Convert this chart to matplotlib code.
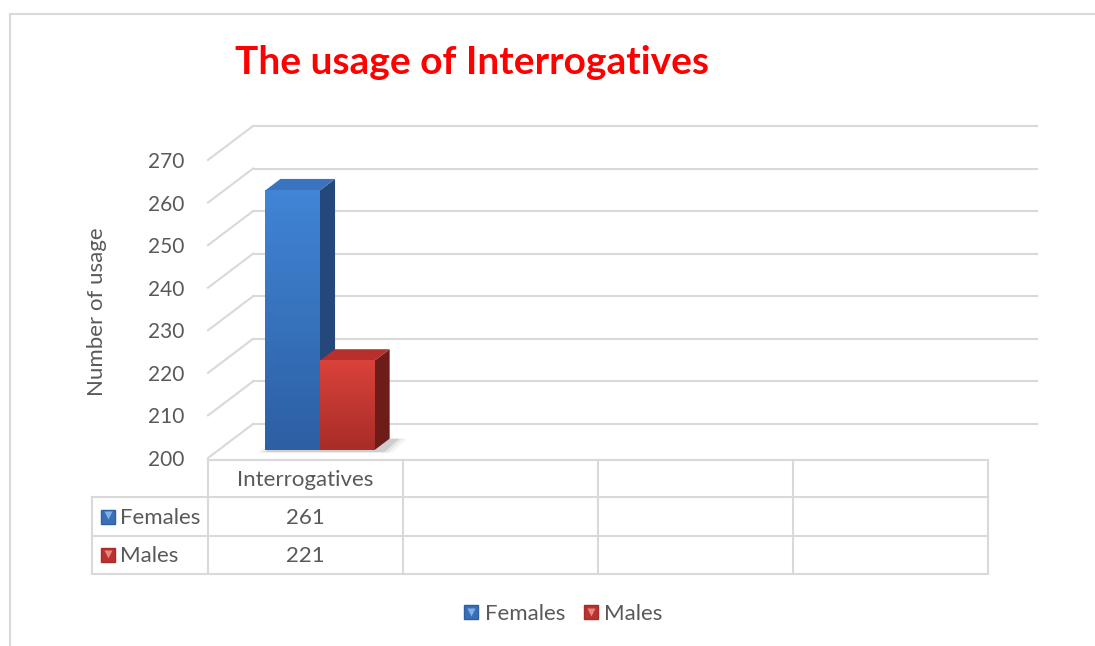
import numpy as np
import matplotlib
matplotlib.use('Agg')
import matplotlib.pyplot as plt
from matplotlib.patches import Polygon
from matplotlib.lines import Line2D
from matplotlib.legend_handler import HandlerTuple

plt.rcParams['font.family'] = ['Lato', 'DejaVu Sans']

# data
categories = ['Interrogatives', '', '', '']
females = [261, None, None, None]
males = [221, None, None, None]
series_names = ['Females', 'Males']
y_ticks = [200, 210, 220, 230, 240, 250, 260, 270]

GRID = '#d9d9d9'
TXT = '#595959'
colors = {
    'Females': dict(front_top='#4085d6', front_bot='#2d5fa3', side='#24487a', top='#3a73bf', mark='#3b6fb5', hi='#8fc3f5'),
    'Males': dict(front_top='#d9423b', front_bot='#a82c28', side='#6e1c19', top='#b8302b', mark='#b83330', hi='#f59a95'),
}

W, H = 1095, 646
fig = plt.figure(figsize=(W / 100, H / 100), dpi=100)

# overlay in pixel coords for frame and table lines
ov = fig.add_axes([0, 0, 1, 1])
ov.set_xlim(0, W)
ov.set_ylim(H, 0)
ov.axis('off')
ov.plot([10, W], [14, 14], color=GRID, lw=1.5)
ov.plot([10, 10], [14, H], color=GRID, lw=1.5)

# main axes: front plane, x in category units, y in values
x0px, x1px, y0px, y1px = 208, 988, 458, 160
ax = fig.add_axes([x0px / W, 1 - y0px / H, (x1px - x0px) / W, (y0px - y1px) / H])
ax.set_xlim(0, len(categories))
ax.set_ylim(200, 270)
for s in ax.spines.values():
    s.set_visible(False)
ax.set_xticks([])
ax.set_yticks(y_ticks)
ax.tick_params(axis='y', length=0, pad=17, labelsize=15, labelcolor=TXT)
ax.set_ylabel('Number of usage', fontsize=16, color=TXT)
ax.yaxis.set_label_coords(-0.13, 0.49)
ax.patch.set_alpha(0)

DX = 45 / 195.0          # depth offset in category units
DY = 34 / (298 / 70.0)   # depth offset in value units
n = len(categories)

# back wall and side wall gridlines
for v in y_ticks:
    ax.plot([DX, n + DX * 1.08], [v + DY, v + DY], color=GRID, lw=1.5, clip_on=False, zorder=1)
    ax.plot([0, DX], [v, v + DY], color=GRID, lw=1.5, clip_on=False, zorder=1)

d0, d1 = 0.235, 0.57
bw = 0.28
start = 0.5 - bw + 0.02

# soft shadow under bars
sh_x0 = start
sh_x1 = start + 2 * bw + 0.05
for k, a in enumerate([0.04, 0.06, 0.10]):
    e = 0.02 * (2 - k)
    ax.add_patch(Polygon([(sh_x0 - e + d0 * DX, 200 + d0 * DY - 0.5 - e * 4),
                          (sh_x1 + e + d0 * DX, 200 + d0 * DY - 0.5 - e * 4),
                          (sh_x1 + e + d1 * DX, 200 + d1 * DY),
                          (sh_x0 - e + d1 * DX, 200 + d1 * DY)],
                         closed=True, fc='black', ec='none', alpha=a, zorder=2, clip_on=False))


def draw_bar(xl, v, c, z):
    xr = xl + bw
    base = 200
    # side face
    ax.add_patch(Polygon([(xr + d0 * DX, base + d0 * DY), (xr + d1 * DX, base + d1 * DY),
                          (xr + d1 * DX, v + d1 * DY), (xr + d0 * DX, v + d0 * DY)],
                         closed=True, fc=c['side'], ec='none', zorder=z, clip_on=False))
    # top face
    ax.add_patch(Polygon([(xl + d0 * DX, v + d0 * DY), (xr + d0 * DX, v + d0 * DY),
                          (xr + d1 * DX, v + d1 * DY), (xl + d1 * DX, v + d1 * DY)],
                         closed=True, fc=c['top'], ec='none', zorder=z, clip_on=False))
    # front face with vertical gradient
    grad = np.linspace(0, 1, 100).reshape(-1, 1)
    cmap = matplotlib.colors.LinearSegmentedColormap.from_list('g', [c['front_bot'], c['front_top']])
    ax.imshow(grad, cmap=cmap, origin='lower', aspect='auto', zorder=z + 0.1,
              extent=[xl + d0 * DX, xr + d0 * DX, base + d0 * DY, v + d0 * DY], clip_on=False)


for i in range(n):
    if females[i] is not None:
        draw_bar(i + start, females[i], colors['Females'], 3)
    if males[i] is not None:
        draw_bar(i + start + bw, males[i], colors['Males'], 4)

ax.set_xlim(0, n)
ax.set_ylim(200, 270)

# data table below the chart
col_w = (x1px - x0px) / n
rows_y = [460, 497, 536, 574]
lab_x = 92
ov.plot([x0px, x1px], [rows_y[0], rows_y[0]], color=GRID, lw=1.5)
for yy in rows_y[1:]:
    ov.plot([lab_x, x1px], [yy, yy], color=GRID, lw=1.5)
ov.plot([lab_x, lab_x], [rows_y[1], rows_y[3]], color=GRID, lw=1.5)
for j in range(n + 1):
    xx = x0px + j * col_w
    ov.plot([xx, xx], [rows_y[0], rows_y[3]], color=GRID, lw=1.5)

for j, cat in enumerate(categories):
    cx = x0px + (j + 0.5) * col_w
    ov.text(cx, (rows_y[0] + rows_y[1]) / 2 + 2, cat, ha='center', va='center', fontsize=16, color=TXT)
    for r, vals in enumerate([females, males]):
        if vals[j] is not None:
            ov.text(cx, (rows_y[r + 1] + rows_y[r + 2]) / 2 + 1, str(vals[j]), ha='center', va='center',
                    fontsize=16, color=TXT)

for r, name in enumerate(series_names):
    cy = (rows_y[r + 1] + rows_y[r + 2]) / 2
    c = colors[name]
    ov.plot(108, cy, marker='s', ms=10, color=c['mark'], mec=c['front_bot'])
    ov.plot(108, cy - 1.5, marker='v', ms=6, color=c['hi'], mec='none', alpha=0.8)
    ov.text(120, cy + 1, name, ha='left', va='center', fontsize=16, color=TXT)

# legend at bottom
handles = []
for name in series_names:
    c = colors[name]
    h1 = Line2D([], [], marker='s', ms=10, color=c['mark'], mec=c['front_bot'], ls='none')
    h2 = Line2D([], [], marker='v', ms=6, color=c['hi'], mec='none', ls='none', alpha=0.8)
    handles.append((h1, h2))
fig.legend(handles, series_names, handler_map={tuple: HandlerTuple(ndivide=1)},
           loc='center', bbox_to_anchor=(563 / W, 1 - 614 / H), ncol=2, frameon=False,
           fontsize=16, labelcolor=TXT, handlelength=0.7, handletextpad=0.25, columnspacing=0.8)

fig.text(235 / W, 1 - 62 / H, 'The usage of Interrogatives', ha='left', va='center',
         fontsize=28, fontweight='bold', color='#ff0000')

fig.savefig('out.png', dpi=100)
